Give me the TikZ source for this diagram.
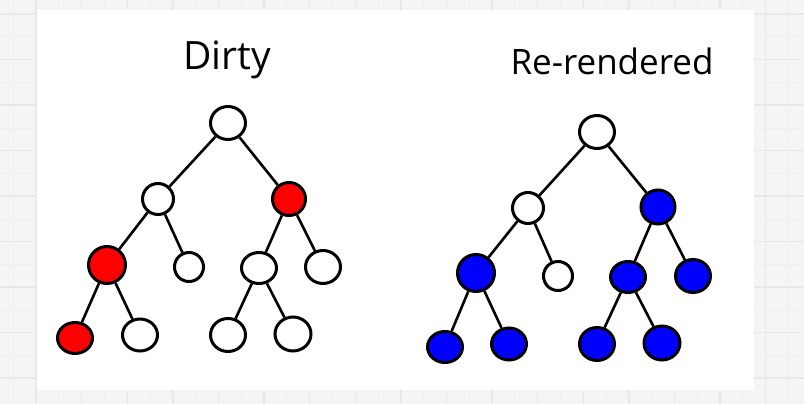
\documentclass[tikz,border=0pt]{standalone}
\usepackage{fontspec}
\setmainfont{Open Sans}
\usetikzlibrary{shapes.geometric}

\definecolor{paper}{HTML}{F5F5F5}
\definecolor{minorline}{HTML}{EFEFEF}
\definecolor{majorline}{HTML}{E8E8E8}

\tikzset{
	vertex/.style={draw, ellipse, line width=3pt, fill=white, inner sep=0pt,
		minimum width=35pt, minimum height=33pt},
	dirty/.style={vertex, fill=red},
	redrawn/.style={vertex, fill=blue},
	dia/.style 2 args={minimum width=#1pt, minimum height=#2pt},
	branch/.style={line width=2.6pt},
	heading/.style={font=\fontsize{35}{42}\selectfont},
}

\begin{document}
\begin{tikzpicture}[x=1pt,y=-1pt]
	\useasboundingbox (0,0) rectangle (804,404);
	% background grid
	\fill[paper] (0,0) rectangle (804,404);
	\foreach \k in {0,...,17} {
		\draw[minorline, line width=1pt] (13.2+45.6*\k,0) -- (13.2+45.6*\k,404);
		\draw[minorline, line width=1pt] (0,37+45.5*\k) -- (804,37+45.5*\k);
	}
	\foreach \k in {0,...,16} {
		\draw[majorline, line width=1.4pt] (36+45.6*\k,0) -- (36+45.6*\k,404);
	}
	\foreach \k in {0,...,8} {
		\draw[majorline, line width=1.4pt] (0,14+45.5*\k) -- (804,14+45.5*\k);
	}
	\fill[white] (37,10) rectangle (754,390);

	% dirty tree
	\node[heading, font=\fontsize{39}{46}\selectfont] (dirty) at (227,60) {Dirty};
	\node (d1) [vertex] at (228,123) {};
	\node (d2) [vertex, dia={31}{31}] at (158,199) {};
	\node (d3) [dirty, dia={33}{33}] at (289,199) {};
	\node (d4) [dirty, dia={37}{37}] at (107,265) {};
	\node (d5) [vertex, dia={29}{29}] at (189,267) {};
	\node (d6) [vertex, dia={35}{31}] at (259,268) {};
	\node (d7) [vertex] at (323,267) {};
	\node (d8) [dirty, dia={35}{31}] at (75,338) {};
	\node (d9) [vertex, dia={35}{32}] at (140,335) {};
	\node (d10) [vertex] at (228,335) {};
	\node (d11) [vertex, dia={36}{34}] at (293,334) {};
	\path[branch]
		(d1) edge (d2)
		(d1) edge (d3)
		(d2) edge (d4)
		(d2) edge (d5)
		(d3) edge (d6)
		(d3) edge (d7)
		(d4) edge (d8)
		(d4) edge (d9)
		(d6) edge (d10)
		(d6) edge (d11);

	% re-rendered tree
	\node[heading] (rerendered) at (612,61) {Re-rendered};
	\node (r1) [vertex] at (597,132) {};
	\node (r2) [vertex, dia={31}{31}] at (528,208) {};
	\node (r3) [redrawn, dia={34}{34}] at (658,207) {};
	\node (r4) [redrawn, dia={37}{37}] at (476,273) {};
	\node (r5) [vertex, dia={29}{29}] at (558,276) {};
	\node (r6) [redrawn, dia={35}{31}] at (628,277) {};
	\node (r7) [redrawn] at (693,276) {};
	\node (r8) [redrawn, dia={35}{31}] at (445,347) {};
	\node (r9) [redrawn, dia={35}{32}] at (509,344) {};
	\node (r10) [redrawn] at (597,344) {};
	\node (r11) [redrawn, dia={36}{34}] at (662,343) {};
	\path[branch]
		(r1) edge (r2)
		(r1) edge (r3)
		(r2) edge (r4)
		(r2) edge (r5)
		(r3) edge (r6)
		(r3) edge (r7)
		(r4) edge (r8)
		(r4) edge (r9)
		(r6) edge (r10)
		(r6) edge (r11);
\end{tikzpicture}
\end{document}
